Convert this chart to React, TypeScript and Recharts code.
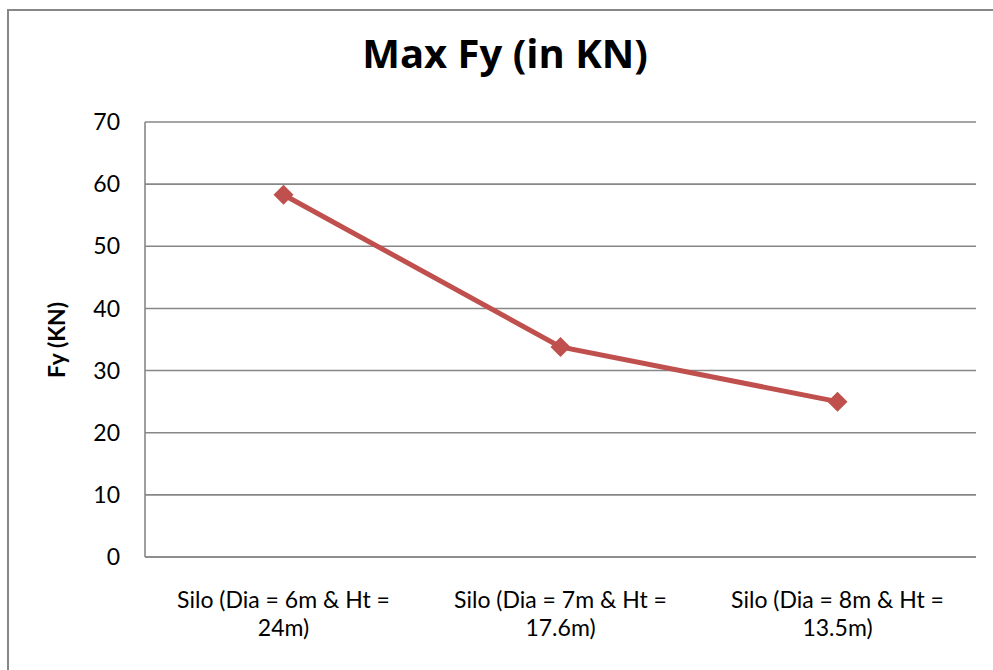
import { LineChart, Line, XAxis, YAxis, CartesianGrid, Customized } from 'recharts'

const CATEGORIES = [
  'Silo (Dia = 6m & Ht = 24m)',
  'Silo (Dia = 7m & Ht = 17.6m)',
  'Silo (Dia = 8m & Ht = 13.5m)',
]
const MAX_FY = [58.3, 33.8, 25.0]
const Y_TICKS = [0, 10, 20, 30, 40, 50, 60, 70]

const FONT = 'Lato, Calibri, sans-serif'
const TITLE_FONT = '"Open Sans", Calibri, sans-serif'
const RED = '#C0504D'
const GRID = '#878787'

const data = CATEGORIES.map((name, i) => ({ name, fy: MAX_FY[i] }))

// category labels wrap before the last word, Excel style
function CategoryTick({ x, y, payload }: any) {
  const words = String(payload.value).split(' ')
  const last = words.pop()
  return (
    <g fontSize={23} fontFamily={FONT} fill="#000" textAnchor="middle">
      <text x={x} y={y + 43}>{words.join(' ')}</text>
      <text x={x} y={y + 71}>{last}</text>
    </g>
  )
}

function Diamond({ cx, cy }: any) {
  if (cx == null || cy == null) return null
  const r = 10
  return <path d={`M${cx},${cy - r}L${cx + r},${cy}L${cx},${cy + r}L${cx - r},${cy}Z`} fill={RED} />
}

function Labels() {
  return (
    <g fontWeight="bold" fill="#000">
      <text x={505} y={68} textAnchor="middle" fontSize={40} fontFamily={TITLE_FONT}>Max Fy (in KN)</text>
      <text transform="translate(65,340) rotate(-90)" textAnchor="middle" fontSize={23} fontFamily={FONT}>Fy (KN)</text>
    </g>
  )
}

export default function App() {
  return (
    <div style={{ position: 'relative', width: 993, height: 670, overflow: 'hidden', background: '#fff' }}>
      <style>{`body{margin:0}`}</style>
      <div style={{ position: 'absolute', left: 7, top: 9, width: 1100, height: 800, border: `2px solid ${GRID}` }} />
      <div style={{ position: 'absolute', left: 0, top: 0 }}>
        <LineChart width={993} height={670} data={data} margin={{ top: 122, right: 17, bottom: 83, left: 85 }}>
          <CartesianGrid vertical={false} stroke={GRID} strokeWidth={1.6} />
          <XAxis
            dataKey="name"
            scale="band"
            height={30}
            axisLine={{ stroke: GRID, strokeWidth: 1.6 }}
            tickLine={false}
            tick={<CategoryTick />}
            interval={0}
          />
          <YAxis
            width={60}
            domain={[0, 70]}
            ticks={Y_TICKS}
            axisLine={{ stroke: GRID, strokeWidth: 1.6 }}
            tickLine={false}
            tickMargin={19}
            tick={{ fontSize: 23, fontFamily: FONT, fill: '#000' }}
          />
          <Line
            dataKey="fy"
            stroke={RED}
            strokeWidth={5}
            dot={<Diamond />}
            activeDot={false}
            isAnimationActive={false}
          />
          <Customized component={Labels} />
        </LineChart>
      </div>
    </div>
  )
}
